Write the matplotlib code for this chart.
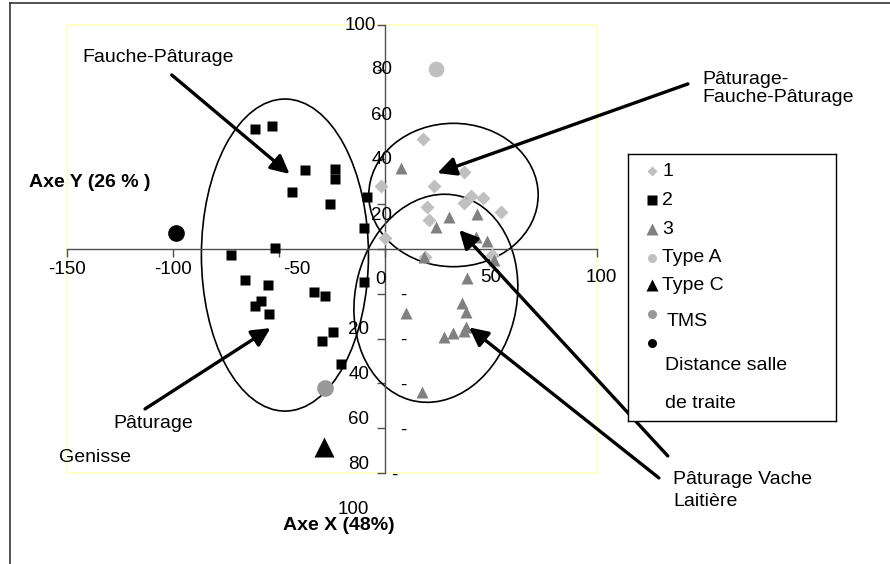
import matplotlib
matplotlib.use('Agg')
import matplotlib.pyplot as plt
from matplotlib.patches import Ellipse, Rectangle
from matplotlib.lines import Line2D

plt.rcParams['font.family'] = ['Liberation Sans', 'DejaVu Sans']

# donnees (Axe X, Axe Y)
x1 = [18.1, 37.4, -1.8, 23.3, 40.8, 46.3, 37.1, 19.6, 54.7, 20.6, 0.0, 19.0, 50.5]
y1 = [49.0, 34.2, 28.3, 28.3, 23.7, 22.6, 20.4, 18.9, 16.7, 12.9, 4.8, -3.4, -2.5]

x2 = [-61.4, -53.2, -37.8, -23.5, -23.5, -44.1, -26.0, -8.6, -10.0, -52.1, -72.5,
      -66.1, -55.0, -58.3, -61.5, -54.6, -33.7, -28.1, -24.6, -29.8, -20.7, -10.0]
y2 = [53.6, 54.9, 35.3, 35.6, 31.1, 25.4, 19.9, 23.1, 9.5, 0.4, -2.7,
      -13.8, -16.1, -23.1, -25.4, -29.2, -19.3, -21.0, -37.1, -41.1, -51.3, -14.9]

x3 = [7.6, 30.3, 43.2, 24.0, 42.9, 47.9, 18.5, 51.5, 38.5, 36.1, 38.2, 9.9, 38.2,
      37.1, 31.9, 28.0, 17.5]
y3 = [36.0, 14.1, 15.6, 10.0, 5.5, 3.7, -3.4, -4.9, -13.1, -24.2, -28.0, -28.4,
      -35.0, -36.6, -37.6, -39.4, -63.7]

type_a = [24.0, 80.2]
type_c = [-28.9, -88.2]
tms = [-28.1, -62.2]
distance = [-98.4, 7.0]

legend_labels = ['1', '2', '3', 'Type A', 'Type C', 'TMS', 'Distance salle\nde traite']

xtick_vals = [-150, -100, -50, 50, 100]
ytick_pos = [100, 80, 60, 40, 20]
ytick_neg = [-20, -40, -60, -80, -100]

W, H = 890, 564
fig = plt.figure(figsize=(W / 100, H / 100), dpi=100)


def fx(px):
    return px / W


def fy(py):
    return 1 - py / H


def lines(x, ys, s, **kw):
    # une ligne de texte par position (interligne fixe en pixels)
    for y, part in zip(ys, s.split('\n')):
        fig.text(fx(x), fy(y), part, va='center', **kw)


ax = fig.add_axes([fx(67), fy(473), 530 / W, 448 / H])
ax.set_xlim(-150, 100)
ax.set_ylim(-100, 100)

# cadre jaune de la zone de tracé
ax.add_patch(Rectangle((0, 0), 1, 1, transform=ax.transAxes, fill=False,
                       ec='#FFFFC0', lw=1.2, zorder=0, clip_on=False))
for s in ['top', 'right']:
    ax.spines[s].set_visible(False)
for s in ['left', 'bottom']:
    ax.spines[s].set_position(('data', 0))
    ax.spines[s].set_color('#505050')
    ax.spines[s].set_linewidth(1)

ax.set_xticks([-150, -100, -50, 0, 50, 100])
ax.set_yticks(range(-100, 101, 20))
ax.tick_params(direction='out', length=6, width=1, color='#505050',
               labelbottom=False, labelleft=False)

# etiquettes des graduations (decalées comme sur l'original)
tick_fs = 13.5
x_off = [(0, -21), (0, -21), (18, -20), (0, -28), (4, -28)]
for v, (dx, dy) in zip(xtick_vals, x_off):
    ax.annotate(str(v), (v, 0), xytext=(dx, dy), textcoords='offset pixels',
                ha='center', va='center', fontsize=tick_fs)
fig.text(fx(385.5), fy(280), '0', ha='right', va='center', fontsize=tick_fs,
         zorder=10)
y_off = [(-8.6, 0), (7.4, 0), (7.4, -1.4), (7.4, -0.6), (7.4, -11)]
for v, (dx, dy) in zip(ytick_pos, y_off):
    ax.annotate(str(v), (0, v), xytext=(dx, dy), textcoords='offset pixels',
                ha='right', va='center', fontsize=tick_fs)
for v in ytick_neg:
    ax.annotate(str(-v), (0, v), xytext=(-15.6, -36), textcoords='offset pixels',
                ha='right', va='center', fontsize=tick_fs)
    ax.annotate('-', (0, v), xytext=(18 if v > -100 else 9, -2),
                textcoords='offset pixels', ha='center', va='center',
                fontsize=tick_fs)

# ellipses des groupes
ell_kw = dict(fill=False, ec='black', lw=1.2, zorder=2)
ax.add_patch(Ellipse((-47.2, -2.7), 78.8, 139.3, **ell_kw))
ax.add_patch(Ellipse((32.3, 24.1), 79.9, 64.0, **ell_kw))
ax.add_patch(Ellipse((24.0, -22.0), 76.0, 94.0, angle=-15, **ell_kw))

# points
styles = [
    dict(marker='D', color='#C0C0C0', ms=7.5),
    dict(marker='s', color='black', ms=7.6),
    dict(marker='^', color='#808080', ms=8.4),
    dict(marker='o', color='#C0C0C0', ms=11.3),
    dict(marker='^', color='black', ms=15),
    dict(marker='o', color='#999999', ms=12),
    dict(marker='o', color='black', ms=12),
]
series = [(x1, y1), (x2, y2), (x3, y3), ([type_a[0]], [type_a[1]]),
          ([type_c[0]], [type_c[1]]), ([tms[0]], [tms[1]]),
          ([distance[0]], [distance[1]])]
for (xs, ys), st in zip(series, styles):
    ax.plot(xs, ys, ls='none', marker=st['marker'], color=st['color'],
            ms=st['ms'], mec='none', zorder=3, clip_on=False)

# fleches
arrows = [
    ((-100.6, 77.7), (-45.0, 33.5)),
    ((142.9, 73.7), (24.7, 33.9)),
    ((-113.2, -71.4), (-54.0, -35.3)),
    ((133.4, -92.4), (35.0, 8.5)),
    ((129.2, -102.2), (39.7, -35.0)),
]
for start, end in arrows:
    ax.annotate('', xy=end, xytext=start, annotation_clip=False,
                arrowprops=dict(arrowstyle='-|>,head_length=0.7,head_width=0.35',
                                lw=2.4, color='black', shrinkA=0, shrinkB=0,
                                mutation_scale=16), zorder=4)

# textes
txt_fs = 14
lines(82, [57], 'Fauche-Pâturage', fontsize=txt_fs)
lines(702, [80, 98], 'Pâturage-\nFauche-Pâturage', fontsize=txt_fs)
lines(113, [423], 'Pâturage', fontsize=txt_fs)
lines(59, [457], 'Genisse', fontsize=txt_fs)
lines(673, [479, 502], 'Pâturage Vache\nLaitière', fontsize=txt_fs)
lines(29, [182], 'Axe Y (26 % )', fontsize=txt_fs, fontweight='bold')
lines(283, [525], 'Axe X (48%)', fontsize=txt_fs, fontweight='bold')

# legende dessinee a la main
lax = fig.add_axes([fx(628), fy(421), 208 / W, 267 / H])
lax.set_xlim(628, 836)
lax.set_ylim(421, 154)
lax.set_xticks([])
lax.set_yticks([])
for s in lax.spines.values():
    s.set_color('black')
    s.set_linewidth(1)
leg_ms = [5.4, 7.0, 8.0, 6.5, 8.0, 6.5, 6.5]
marker_y = [171, 200, 229, 258, 285, 314, 343]
text_y = [[171], [200], [229], [258], [285], [322], [365, 403]]
text_x = [662, 662, 662, 662, 662, 667, 665]
for lab, st, ms, my, ty, tx in zip(legend_labels, styles, leg_ms, marker_y, text_y, text_x):
    lax.plot([652], [my], ls='none', marker=st['marker'], color=st['color'],
             ms=ms, mec='none', clip_on=False)
    lines(tx, ty, lab, fontsize=txt_fs, zorder=5)

# cadre exterieur (haut et gauche)
fig.add_artist(Line2D([fx(10), fx(10)], [0, fy(3)], color='#333333', lw=1.2))
fig.add_artist(Line2D([fx(10), 1], [fy(3), fy(3)], color='#333333', lw=1.2))

fig.savefig('out.png', dpi=100)
